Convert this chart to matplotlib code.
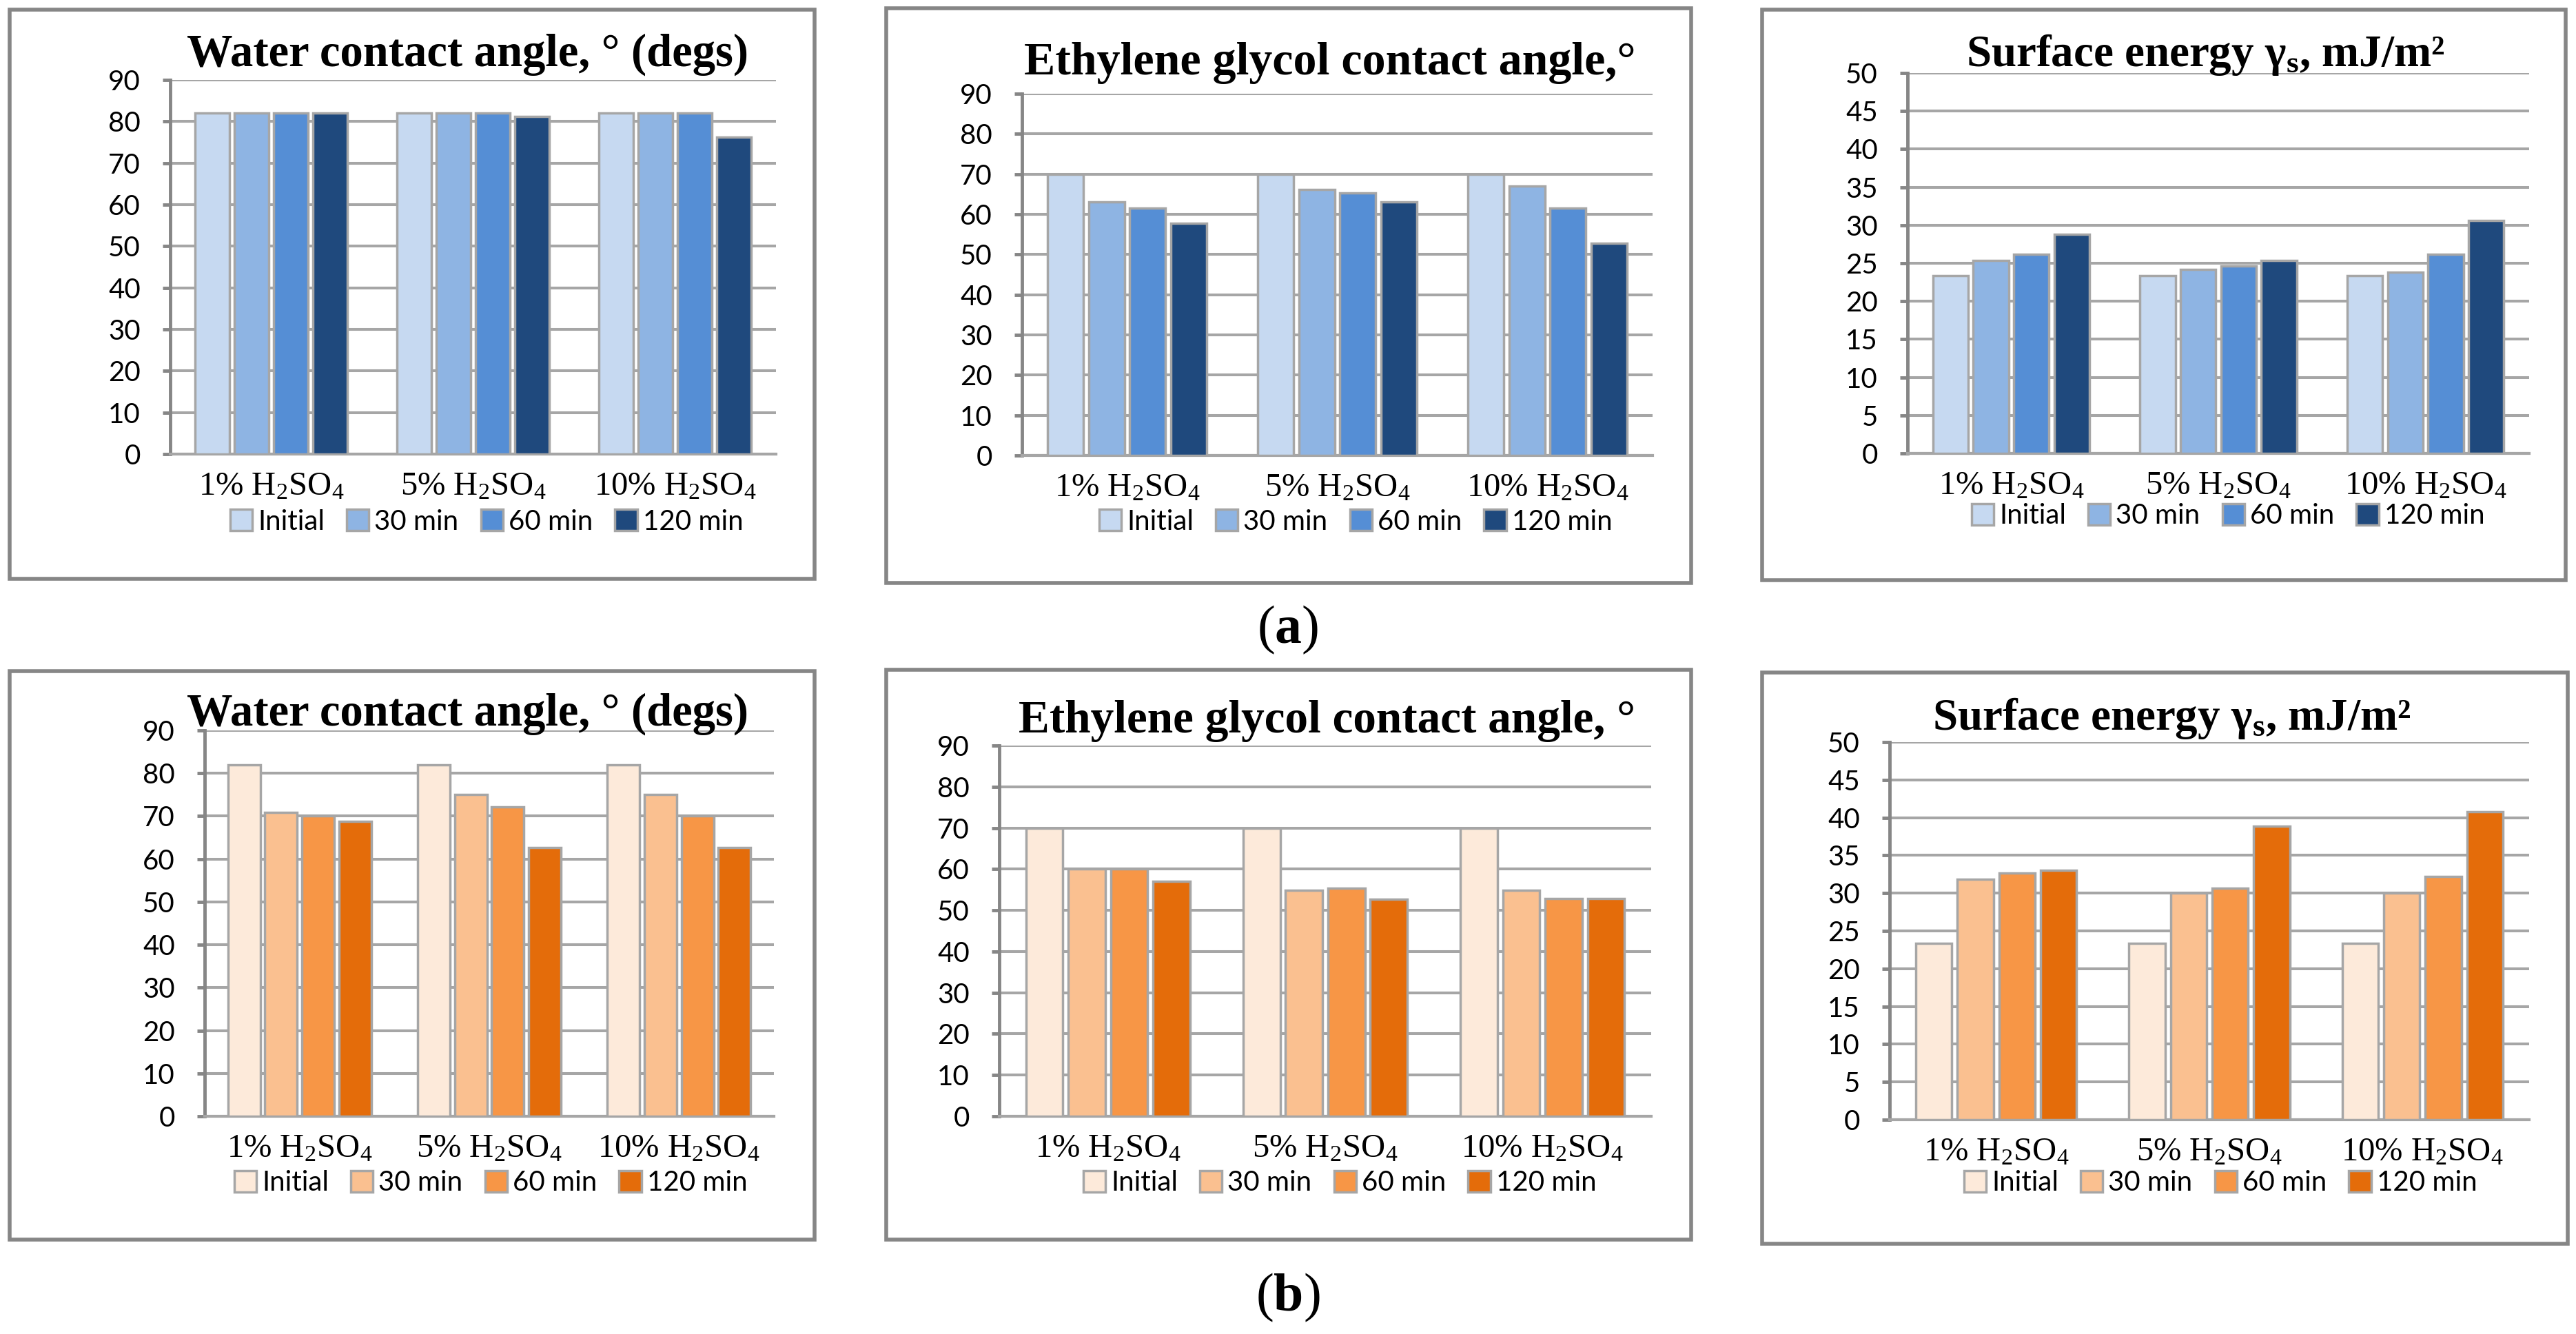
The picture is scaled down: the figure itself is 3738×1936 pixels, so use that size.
import matplotlib
matplotlib.use('Agg')
import matplotlib.pyplot as plt
from matplotlib.patches import Rectangle, Patch
import numpy as np

# ---------------- data ----------------
categories = ['1% H$_2$SO$_4$', '5% H$_2$SO$_4$', '10% H$_2$SO$_4$']
series = ['Initial', '30 min', '60 min', '120 min']

# rows = series (Initial, 30 min, 60 min, 120 min), columns = categories
water_a = [[82, 82, 82], [82, 82, 82], [82, 82, 82], [82, 81.2, 76.2]]
eg_a = [[70, 70, 70], [63.1, 66.2, 67.0], [61.6, 65.3, 61.6], [57.8, 63.0, 52.8]]
se_a = [[23.4, 23.4, 23.4], [25.4, 24.2, 23.8], [26.2, 24.6, 26.2], [28.8, 25.4, 30.6]]

water_b = [[82, 82, 82], [70.8, 75.0, 75.0], [70.0, 72.2, 70.0], [68.8, 62.6, 62.6]]
eg_b = [[70, 70, 70], [60.0, 54.9, 54.9], [60.0, 55.4, 52.8], [57.0, 52.7, 52.8]]
se_b = [[23.4, 23.4, 23.4], [31.8, 30.0, 30.0], [32.7, 30.7, 32.2], [33.0, 38.9, 40.8]]

titles_a = ['Water contact angle, ° (degs)', 'Ethylene glycol contact angle,°',
            'Surface energy γ$_s$, mJ/m²']
titles_b = ['Water contact angle, ° (degs)', 'Ethylene glycol contact angle, °',
            'Surface energy γ$_s$, mJ/m²']
y_max = [90, 90, 50]
y_step = [10, 10, 5]

blues = ['#C6D9F1', '#8EB4E3', '#558ED5', '#1F497D']
oranges = ['#FDEADA', '#FAC090', '#F79646', '#E46C0A']

# ---------------- style ----------------
plt.rcParams['mathtext.default'] = 'regular'
plt.rcParams['mathtext.fontset'] = 'custom'
plt.rcParams['mathtext.rm'] = 'Liberation Serif'
plt.rcParams['mathtext.bf'] = 'Liberation Serif:bold'
plt.rcParams['mathtext.it'] = 'Liberation Serif:italic'

W, H = 3738, 1936
fig = plt.figure(figsize=(W / 100, H / 100), dpi=100)
fig.patch.set_facecolor('white')

EDGE = '#A6A6A6'
AXC = '#868686'
SANS = ['Lato', 'DejaVu Sans']
SERIF = ['Liberation Serif', 'DejaVu Serif']


def fx(px):
    return px / W


def fy(py):
    return 1 - py / H


# layout (pixels): box, axes(x0,ytop,x1,ybottom), title (x, baseline, width), legend centre
layout = [
    dict(box=(14, 14, 1182, 840), ax=(247, 116, 1126, 659), title=(271, 96, 814), leg=(706, 757)),
    dict(box=(1286, 12, 2454, 846), ax=(1483, 136, 2398, 661), title=(1486, 108, 886), leg=(1967, 757)),
    dict(box=(2557, 14, 3723, 842), ax=(2768, 106, 3670, 658), title=(2853, 96, 694), leg=(3233, 749)),
    dict(box=(14, 974, 1182, 1799), ax=(297, 1060, 1123, 1620), title=(271, 1053, 814), leg=(712, 1717)),
    dict(box=(1286, 972, 2454, 1799), ax=(1450, 1082, 2396, 1620), title=(1478, 1063, 894), leg=(1944, 1717)),
    dict(box=(2557, 976, 3726, 1805), ax=(2742, 1077, 3670, 1625), title=(2804, 1059, 695), leg=(3222, 1717)),
]

datasets = [water_a, eg_a, se_a, water_b, eg_b, se_b]
titles = titles_a + titles_b
palettes = [blues] * 3 + [oranges] * 3

renderer = fig.canvas.get_renderer()
step = 0.195
bw = 0.17
xc = np.arange(len(categories))

for i, (lay, data, ttl, pal) in enumerate(zip(layout, datasets, titles, palettes)):
    k = i % 3
    bx0, by0, bx1, by1 = lay['box']
    fig.add_artist(Rectangle((fx(bx0), fy(by1)), (bx1 - bx0) / W, (by1 - by0) / H,
                             transform=fig.transFigure, fill=False,
                             edgecolor=AXC, linewidth=4, zorder=1))
    ax0, at, ax1, ab = lay['ax']
    ax = fig.add_axes([fx(ax0), fy(ab), (ax1 - ax0) / W, (ab - at) / H])
    ax.set_facecolor('none')
    for j, s in enumerate(series):
        ax.bar(xc + (j - 1.5) * step, data[j], width=bw, color=pal[j],
               edgecolor=EDGE, linewidth=2.5, zorder=3)
    ax.set_xlim(-0.5, 2.5)
    ax.set_ylim(0, y_max[k])
    ax.set_yticks(np.arange(0, y_max[k] + 1, y_step[k]))
    ax.yaxis.grid(True, color=EDGE, linewidth=2.9)
    ax.set_axisbelow(True)
    for sp in ['top', 'right']:
        ax.spines[sp].set_visible(False)
    ax.spines['left'].set_color(AXC)
    ax.spines['left'].set_linewidth(3.5)
    ax.spines['bottom'].set_color(EDGE)
    ax.spines['bottom'].set_linewidth(3)
    ax.spines['bottom'].set_zorder(2.5)
    ax.tick_params(axis='y', length=8, width=3.5, color=AXC, pad=23, labelsize=29)
    for lb in ax.get_yticklabels():
        lb.set_family(SANS)
    ax.set_xticks(xc)
    ax.set_xticklabels(categories, fontsize=35, family=SERIF)
    ax.tick_params(axis='x', length=0, pad=18)

    tx, tbase, twidth = lay['title']
    t = fig.text(fx(tx), fy(tbase), ttl, ha='left', va='baseline',
                 fontsize=40, fontweight='bold', family=SERIF, zorder=5)
    w = t.get_window_extent(renderer).width
    t.set_fontsize(40 * twidth / w)

    handles = [Patch(facecolor=c, edgecolor=EDGE, linewidth=2.5) for c in pal]
    lx, ly = lay['leg']
    fig.legend(handles, series, loc='center', bbox_to_anchor=(fx(lx), fy(ly)),
               ncol=4, frameon=False, prop={'family': SANS, 'size': 29},
               handlelength=0.8, handleheight=0.8, handletextpad=0.2,
               columnspacing=0.8, borderaxespad=0, borderpad=0)

fig.text(fx(1869), fy(914), r'($\mathbf{a}$)', ha='center', va='center',
         fontsize=56, family=SERIF)
fig.text(fx(1869), fy(1883), r'($\mathbf{b}$)', ha='center', va='center',
         fontsize=56, family=SERIF)

fig.savefig('out.png', dpi=100, facecolor='white')
